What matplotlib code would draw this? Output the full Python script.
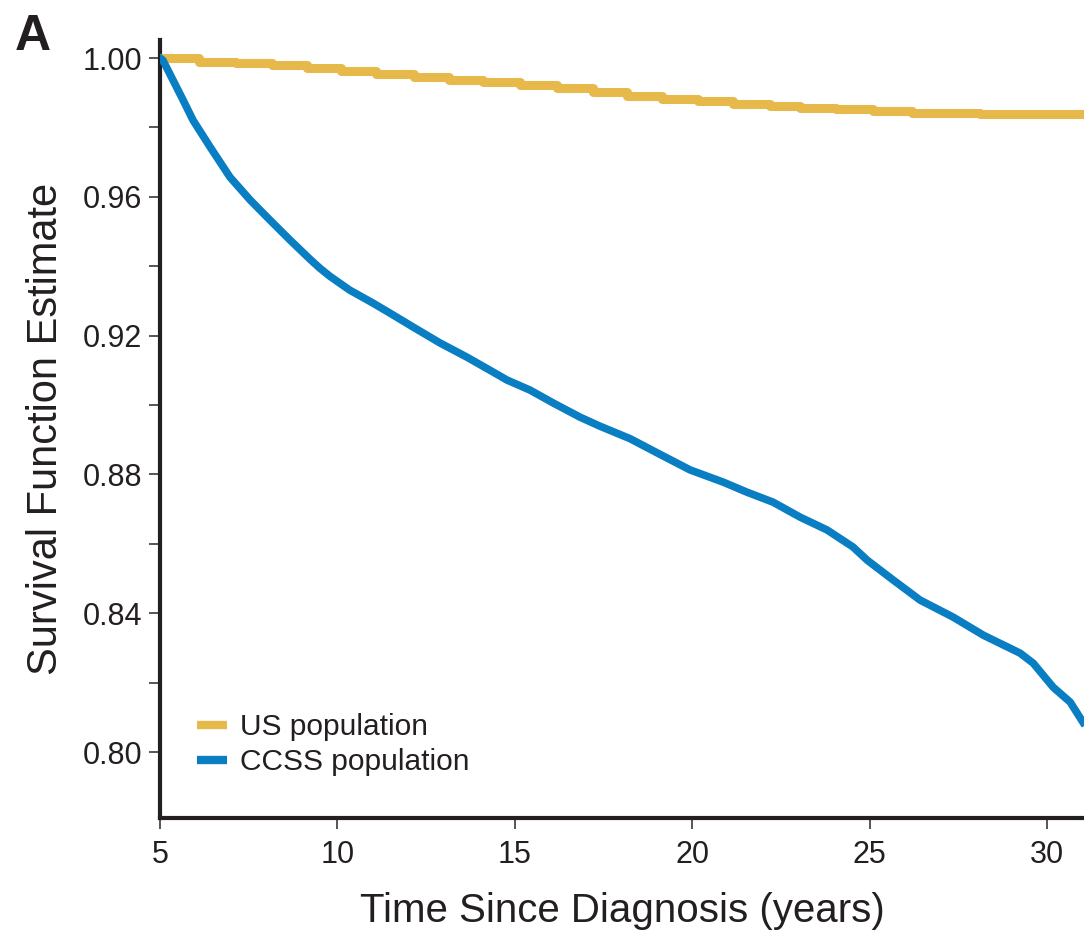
import matplotlib
matplotlib.use("Agg")
import matplotlib.pyplot as plt
from matplotlib.ticker import FixedLocator, NullFormatter

# US population (step function), years since diagnosis and survival
us_time = [5.0, 6.1, 7.15, 8.15, 9.15, 10.1, 11.1, 12.15, 13.15, 14.1, 15.15,
           16.2, 17.2, 18.15, 19.15, 20.15, 21.15, 22.2, 23.05, 24.05, 25.1,
           26.2, 28.1, 31.04]
us_surv = [1.0000, 0.9989, 0.9985, 0.9980, 0.9970, 0.9963, 0.9953, 0.9946,
           0.9938, 0.9932, 0.9922, 0.9913, 0.9901, 0.9891, 0.9882, 0.9877,
           0.9869, 0.9863, 0.9857, 0.9852, 0.9847, 0.9842, 0.9838, 0.9838]

# CCSS population
ccss_time = [5.00, 5.08, 5.65, 5.93, 6.41, 6.97, 7.54, 8.10, 8.66, 9.23, 9.51,
             9.79, 10.35, 11.00, 11.48, 12.13, 12.89, 13.65, 14.39, 14.78,
             15.43, 16.08, 16.84, 17.40, 18.25, 19.09, 19.94, 20.87, 21.54,
             22.28, 23.04, 23.80, 24.53, 24.93, 25.66, 26.42, 27.35, 28.20,
             29.24, 29.61, 30.17, 30.65, 31.01]
ccss_surv = [1.0000, 0.9994, 0.9879, 0.9821, 0.9744, 0.9657, 0.9591, 0.9533,
             0.9476, 0.9420, 0.9394, 0.9371, 0.9331, 0.9294, 0.9265, 0.9225,
             0.9179, 0.9138, 0.9095, 0.9072, 0.9043, 0.9006, 0.8965, 0.8939,
             0.8903, 0.8858, 0.8813, 0.8778, 0.8749, 0.8720, 0.8677, 0.8640,
             0.8591, 0.8553, 0.8496, 0.8438, 0.8389, 0.8337, 0.8285, 0.8256,
             0.8187, 0.8144, 0.8086]

series_labels = ["US population", "CCSS population"]
x_ticks = [5, 10, 15, 20, 25, 30]
y_major = [0.80, 0.84, 0.88, 0.92, 0.96, 1.00]
y_minor = [0.82, 0.86, 0.90, 0.94, 0.98]

YELLOW = "#E6B94A"
BLUE = "#0A7EC2"
TXT = "#231F20"

plt.rcParams['font.family'] = ['Liberation Sans', 'DejaVu Sans']

fig = plt.figure(figsize=(10.84, 9.43), dpi=100)
ax = fig.add_axes([160/1084, 1-818/943, 1-160/1084, (818-40)/943])

ax.plot(us_time, us_surv, drawstyle='steps-post', color=YELLOW, lw=6.5,
        solid_capstyle='butt', label=series_labels[0], zorder=3)
ax.plot(ccss_time, ccss_surv, color=BLUE, lw=5.5, solid_joinstyle='round',
        label=series_labels[1], zorder=4)

ax.set_xlim(5, 31.04)
ax.set_ylim(0.7810, 1.0052)

for s in ['top', 'right']:
    ax.spines[s].set_visible(False)
for s in ['left', 'bottom']:
    ax.spines[s].set_linewidth(3.0)
    ax.spines[s].set_color('#231F20')

ax.set_xticks(x_ticks)
ax.set_xticklabels([str(t) for t in x_ticks])
ax.set_yticks(y_major)
ax.set_yticklabels([f"{v:.2f}" for v in y_major])
ax.yaxis.set_minor_locator(FixedLocator(y_minor))
ax.yaxis.set_minor_formatter(NullFormatter())

ax.tick_params(axis='both', which='both', direction='out', length=8, width=1.2,
               color='#3a3a3a', labelcolor=TXT, labelsize=22)
ax.tick_params(axis='y', which='major', pad=5)
ax.tick_params(axis='x', which='major', pad=8)

ax.set_ylabel("Survival Function Estimate", fontsize=30, color=TXT, labelpad=12)
ax.set_xlabel("Time Since Diagnosis (years)", fontsize=29, color=TXT, labelpad=16)

leg = ax.legend(loc='lower left', bbox_to_anchor=(0.027, 0.038), frameon=False,
                fontsize=21.5, handlelength=1.0, handletextpad=0.45,
                labelspacing=0.25, borderaxespad=0)
for h in leg.get_lines():
    h.set_linewidth(6)
    h.set_solid_capstyle('butt')
for t in leg.get_texts():
    t.set_color(TXT)

fig.text(15/1084, 1-50/943, "A", fontsize=36, fontweight='bold', color=TXT,
         family=['Liberation Sans', 'DejaVu Sans'], ha='left', va='baseline')

fig.savefig("out.png", dpi=100)
